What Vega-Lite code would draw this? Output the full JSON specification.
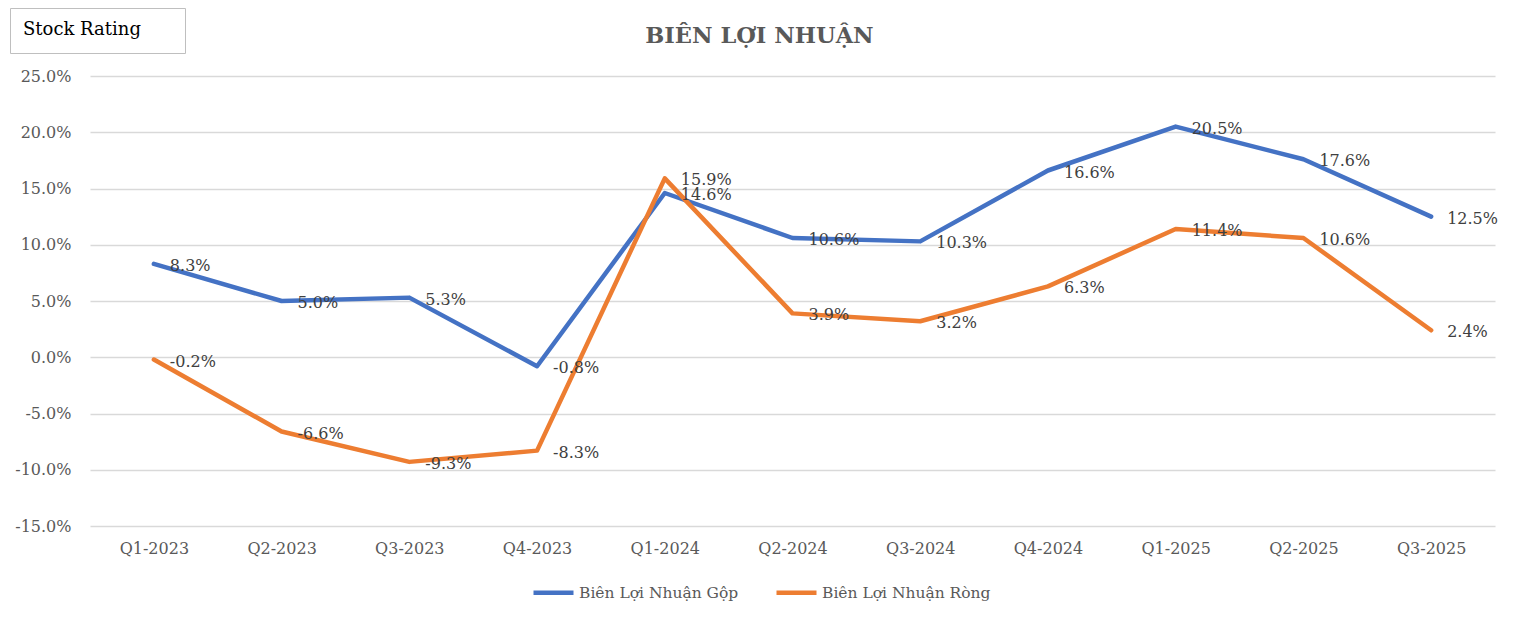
{
  "$schema": "https://vega.github.io/schema/vega-lite/v6.json",
  "width": 1405,
  "height": 450,
  "autosize": {"type": "none"},
  "padding": {"left": 90, "top": 76, "right": 24, "bottom": 95},
  "background": "white",
  "title": {
    "text": "BIÊN LỢI NHUẬN",
    "font": "DejaVu Serif",
    "fontSize": 22.5,
    "fontWeight": "bold",
    "color": "#595959",
    "anchor": "middle",
    "baseline": "alphabetic",
    "dx": -33,
    "offset": -58
  },
  "config": {
    "view": {"stroke": null},
    "font": "DejaVu Serif",
    "locale": {"number": {"decimal": ".", "thousands": ",", "grouping": [3], "currency": ["$", ""], "minus": "-"}}
  },
  "datasets": {
    "margins": [
      {"quarter": "Q1-2023", "series": "Biên Lợi Nhuận Gộp", "value": 0.083},
      {"quarter": "Q2-2023", "series": "Biên Lợi Nhuận Gộp", "value": 0.050},
      {"quarter": "Q3-2023", "series": "Biên Lợi Nhuận Gộp", "value": 0.053},
      {"quarter": "Q4-2023", "series": "Biên Lợi Nhuận Gộp", "value": -0.008},
      {"quarter": "Q1-2024", "series": "Biên Lợi Nhuận Gộp", "value": 0.146},
      {"quarter": "Q2-2024", "series": "Biên Lợi Nhuận Gộp", "value": 0.106},
      {"quarter": "Q3-2024", "series": "Biên Lợi Nhuận Gộp", "value": 0.103},
      {"quarter": "Q4-2024", "series": "Biên Lợi Nhuận Gộp", "value": 0.166},
      {"quarter": "Q1-2025", "series": "Biên Lợi Nhuận Gộp", "value": 0.205},
      {"quarter": "Q2-2025", "series": "Biên Lợi Nhuận Gộp", "value": 0.176},
      {"quarter": "Q3-2025", "series": "Biên Lợi Nhuận Gộp", "value": 0.125},
      {"quarter": "Q1-2023", "series": "Biên Lợi Nhuận Ròng", "value": -0.002},
      {"quarter": "Q2-2023", "series": "Biên Lợi Nhuận Ròng", "value": -0.066},
      {"quarter": "Q3-2023", "series": "Biên Lợi Nhuận Ròng", "value": -0.093},
      {"quarter": "Q4-2023", "series": "Biên Lợi Nhuận Ròng", "value": -0.083},
      {"quarter": "Q1-2024", "series": "Biên Lợi Nhuận Ròng", "value": 0.159},
      {"quarter": "Q2-2024", "series": "Biên Lợi Nhuận Ròng", "value": 0.039},
      {"quarter": "Q3-2024", "series": "Biên Lợi Nhuận Ròng", "value": 0.032},
      {"quarter": "Q4-2024", "series": "Biên Lợi Nhuận Ròng", "value": 0.063},
      {"quarter": "Q1-2025", "series": "Biên Lợi Nhuận Ròng", "value": 0.114},
      {"quarter": "Q2-2025", "series": "Biên Lợi Nhuận Ròng", "value": 0.106},
      {"quarter": "Q3-2025", "series": "Biên Lợi Nhuận Ròng", "value": 0.024}
    ],
    "badge": [{"tag": "Stock Rating"}]
  },
  "layer": [
    {
      "data": {"name": "margins"},
      "mark": {"type": "line", "strokeWidth": 4.5, "strokeJoin": "round", "strokeCap": "round"},
      "encoding": {
        "x": {
          "field": "quarter", "type": "ordinal", "sort": null,
          "scale": {"type": "point", "padding": 0.5},
          "axis": {
            "title": null, "domain": false, "ticks": false, "grid": false,
            "labelAngle": 0, "labelFont": "DejaVu Serif", "labelFontSize": 16,
            "labelColor": "#595959", "labelPadding": 14
          }
        },
        "y": {
          "field": "value", "type": "quantitative",
          "scale": {"domain": [-0.15, 0.25], "nice": false, "zero": false},
          "axis": {
            "title": null, "domain": false, "ticks": false,
            "values": [-0.15, -0.10, -0.05, 0, 0.05, 0.10, 0.15, 0.20, 0.25],
            "format": ".1%", "grid": true, "gridColor": "#d9d9d9", "gridWidth": 1.3,
            "labelFont": "DejaVu Serif", "labelFontSize": 16,
            "labelColor": "#595959", "labelPadding": 19
          }
        },
        "color": {
          "field": "series", "type": "nominal",
          "scale": {"domain": ["Biên Lợi Nhuận Gộp", "Biên Lợi Nhuận Ròng"], "range": ["#4472C4", "#ED7D31"]},
          "legend": {
            "title": null, "orient": "none", "direction": "horizontal",
            "legendX": 441, "legendY": 494, "padding": 0,
            "symbolType": "stroke", "symbolStrokeWidth": 4.5, "symbolSize": 1600,
            "labelFont": "DejaVu Serif", "labelFontSize": 15.5, "labelColor": "#595959",
            "labelOffset": 3, "columnPadding": 28, "labelLimit": 400
          }
        }
      }
    },
    {
      "data": {"name": "margins"},
      "mark": {"type": "text", "align": "left", "baseline": "middle", "dx": 16, "dy": 2, "font": "DejaVu Serif", "fontSize": 16, "color": "#404040"},
      "encoding": {
        "x": {"field": "quarter", "type": "ordinal", "sort": null},
        "y": {"field": "value", "type": "quantitative"},
        "text": {"field": "value", "type": "quantitative", "format": ".1%"}
      }
    },
    {
      "data": {"name": "badge"},
      "mark": {"type": "point", "opacity": 0, "size": 1},
      "encoding": {
        "shape": {
          "field": "tag", "type": "nominal",
          "legend": {
            "orient": "none", "legendX": -80, "legendY": -68,
            "title": "Stock Rating", "titleFont": "DejaVu Serif", "titleFontSize": 18,
            "titleFontWeight": "normal", "titleColor": "#000000", "titlePadding": 0,
            "padding": 13, "strokeColor": "#bfbfbf",
            "symbolSize": 1, "symbolOpacity": 0, "symbolStrokeWidth": 0,
            "labelExpr": "''", "labelFontSize": 1, "labelOffset": 148
          }
        }
      }
    }
  ]
}
